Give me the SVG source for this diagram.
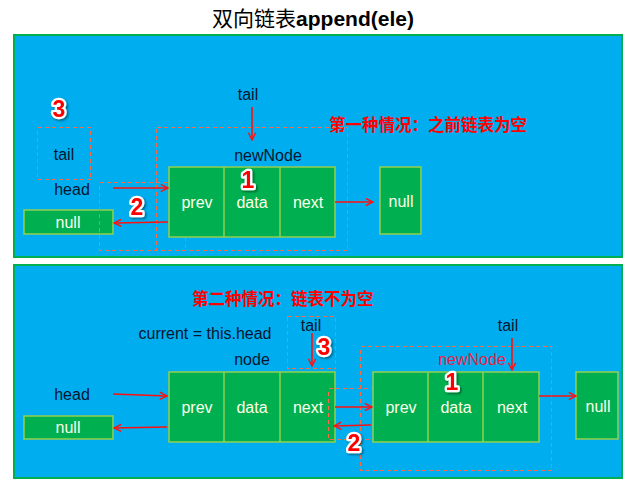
<svg xmlns="http://www.w3.org/2000/svg" width="634" height="485" viewBox="0 0 634 485">
<defs>
<marker id="ah" viewBox="0 0 10 10" refX="9" refY="5" markerWidth="9" markerHeight="9" markerUnits="userSpaceOnUse" orient="auto">
<path d="M1,1 L9,5 L1,9" fill="none" stroke="#FF1010" stroke-width="1.6"/>
</marker>
<filter id="sh" x="-30%" y="-30%" width="160%" height="160%">
<feDropShadow dx="1.5" dy="1.5" stdDeviation="1" flood-color="#000" flood-opacity="0.45"/>
</filter>
<style>
.panel{fill:#00AEEF;stroke:#00B050;stroke-width:2}
.cell{fill:#00B050;stroke:#92D050;stroke-width:1.5}
.wt{font-family:"Liberation Sans",Arial,sans-serif;font-size:16px;fill:#FFFFE8;text-anchor:middle}
.lb{font-family:"Liberation Sans",Arial,sans-serif;font-size:16px;fill:#061430;text-anchor:middle}
.dash{fill:none;stroke:#FF6A40;stroke-width:1;stroke-dasharray:4 3;shape-rendering:crispEdges}
.arr{stroke:#FF1010;stroke-width:1.6;fill:none;marker-end:url(#ah)}
.badge{font-family:"Liberation Sans",Arial,sans-serif;font-weight:bold;font-size:23px;fill:#FF0000;stroke:#FFFFFF;stroke-width:4.5;paint-order:stroke;stroke-linejoin:round;text-anchor:middle;filter:url(#sh)}
.cn{font-family:"Noto Sans CJK SC",sans-serif;font-size:16.5px;fill:#FF0000;font-weight:bold}
</style>
</defs>
<text x="313" y="26" text-anchor="middle" font-size="21" fill="#000"><tspan font-family="'Noto Sans CJK SC',sans-serif">双向链表</tspan><tspan font-family="'Liberation Sans',Arial,sans-serif" font-weight="bold">append(ele)</tspan></text>
<rect class="panel" x="14" y="35" width="608" height="222"/>
<rect class="panel" x="14" y="265" width="608" height="213"/>

<!-- Panel 1 -->
<text class="cn" x="329" y="131">第一种情况：之前链表为空</text>
<g id="p1-tailbox"><rect class="dash" x="37.5" y="127.5" width="53" height="52"/><text class="lb" x="64" y="160">tail</text></g>
<g id="p1-head"><text class="lb" x="72" y="195">head</text></g>
<g id="p1-null1"><rect class="cell" x="24" y="210" width="89" height="24"/><text class="wt" x="68" y="228">null</text></g>
<g id="p1-box2"><rect class="dash" x="99.5" y="182.5" width="86" height="68"/></g>
<g id="p1-bigbox"><rect class="dash" x="156.5" y="127.5" width="191" height="123"/></g>
<g id="p1-tail"><text class="lb" x="248" y="100">tail</text></g>
<g id="p1-newNode"><text class="lb" x="268" y="161">newNode</text>
<rect class="cell" x="169" y="167" width="166" height="70"/>
<line x1="224" y1="167" x2="224" y2="237" stroke="#92D050" stroke-width="1.5"/>
<line x1="280" y1="167" x2="280" y2="237" stroke="#92D050" stroke-width="1.5"/>
<text class="wt" x="197" y="208">prev</text><text class="wt" x="252" y="208">data</text><text class="wt" x="308" y="208">next</text></g>
<g id="p1-null2"><rect class="cell" x="380" y="167" width="41" height="67"/><text class="wt" x="401" y="207">null</text></g>
<g id="p1-badges"><text class="badge" x="59" y="117">3</text><text class="badge" x="137" y="215">2</text><text class="badge" x="248" y="188">1</text></g>

<!-- Panel 2 -->
<text class="cn" x="192" y="305">第二种情况：链表不为空</text>
<g id="p2-current"><text class="lb" x="205" y="339">current = this.head</text><text class="lb" x="252" y="365">node</text></g>
<g id="p2-tailbox"><rect class="dash" x="287.5" y="316.5" width="48" height="52"/><text class="lb" x="311" y="331">tail</text></g>
<g id="p2-head"><text class="lb" x="72" y="400">head</text></g>
<g id="p2-null1"><rect class="cell" x="24" y="416" width="89" height="23"/><text class="wt" x="68" y="433">null</text></g>
<g id="p2-node"><rect class="cell" x="169" y="372" width="166" height="70"/>
<line x1="224" y1="372" x2="224" y2="442" stroke="#92D050" stroke-width="1.5"/>
<line x1="280" y1="372" x2="280" y2="442" stroke="#92D050" stroke-width="1.5"/>
<text class="wt" x="197" y="413">prev</text><text class="wt" x="252" y="413">data</text><text class="wt" x="308" y="413">next</text></g>
<g id="p2-box2"><rect class="dash" x="328.5" y="388.5" width="47" height="51"/></g>
<g id="p2-bigbox"><rect class="dash" x="360.5" y="346.5" width="191" height="124"/></g>
<g id="p2-newNode"><text class="lb" x="472" y="365" style="fill:#E8204A">newNode</text>
<rect class="cell" x="373" y="372" width="166" height="70"/>
<line x1="428" y1="372" x2="428" y2="442" stroke="#92D050" stroke-width="1.5"/>
<line x1="483" y1="372" x2="483" y2="442" stroke="#92D050" stroke-width="1.5"/>
<text class="wt" x="401" y="413">prev</text><text class="wt" x="456" y="413">data</text><text class="wt" x="512" y="413">next</text></g>
<g id="p2-tail"><text class="lb" x="508" y="331">tail</text></g>
<g id="p2-null2"><rect class="cell" x="576" y="372" width="42" height="67"/><text class="wt" x="598" y="412">null</text></g>
<g id="p2-badges"><text class="badge" x="324" y="355">3</text><text class="badge" x="354" y="451">2</text><text class="badge" x="452" y="390">1</text></g>

<g id="connectors">
<line class="arr" x1="113" y1="188" x2="168" y2="188"/>
<line class="arr" x1="168" y1="222" x2="114" y2="223"/>
<line class="arr" x1="252" y1="107" x2="252" y2="140"/>
<line class="arr" x1="335" y1="202" x2="373" y2="202"/>
<line class="arr" x1="312" y1="333" x2="312" y2="366"/>
<line class="arr" x1="113" y1="394" x2="167" y2="396"/>
<line class="arr" x1="167" y1="427" x2="114" y2="428"/>
<line class="arr" x1="335" y1="407" x2="372" y2="407"/>
<line class="arr" x1="371" y1="425" x2="334" y2="426"/>
<line class="arr" x1="512" y1="338" x2="512" y2="370"/>
<line class="arr" x1="539" y1="396" x2="576" y2="396"/>
</g>
</svg>
